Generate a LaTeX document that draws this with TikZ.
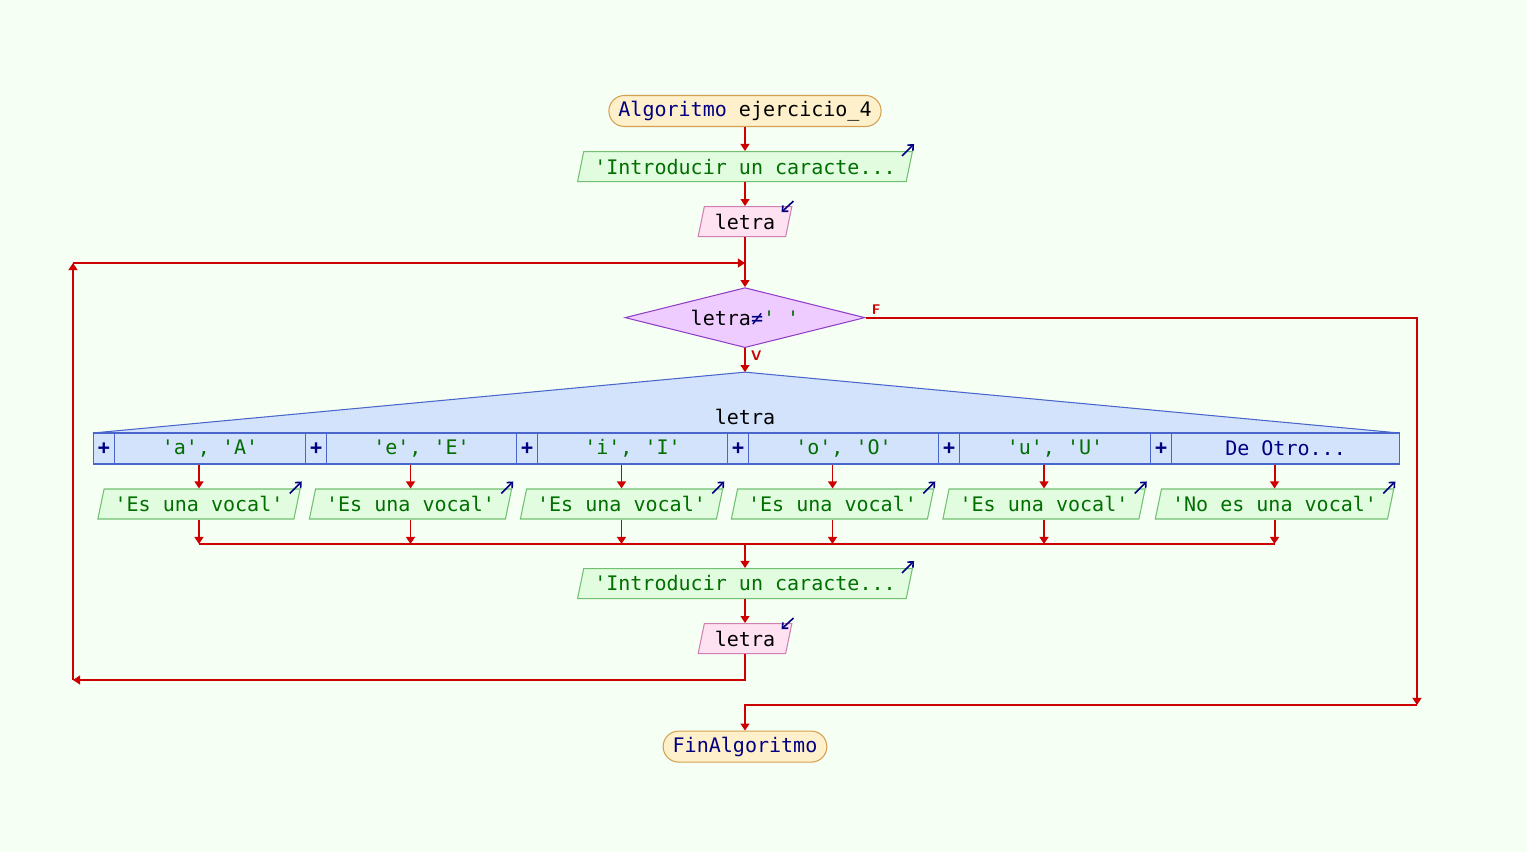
\documentclass[tikz,border=0pt]{standalone}
\usepackage{fontspec}
\setmonofont{DejaVu Sans Mono}
\usepackage{tikz}
\usetikzlibrary{arrows.meta,positioning,shapes.geometric}

\definecolor{bgcol}{HTML}{F5FFF4}
\definecolor{flowred}{HTML}{CC0000}
\definecolor{kwblue}{HTML}{000080}
\definecolor{strgreen}{HTML}{006E00}
\definecolor{termfill}{HTML}{FFF0CC}
\definecolor{termdraw}{HTML}{D4A050}
\definecolor{outfill}{HTML}{E2FCE0}
\definecolor{outdraw}{HTML}{70C070}
\definecolor{infill}{HTML}{FFE2F2}
\definecolor{indraw}{HTML}{D080B0}
\definecolor{decfill}{HTML}{EFCCFF}
\definecolor{decdraw}{HTML}{9040C8}
\definecolor{swfill}{HTML}{D4E3FC}
\definecolor{swdraw}{HTML}{4A66CC}

\tikzstyle{startstop} = [rectangle, rounded corners=0.31cm, minimum height=0.62cm, inner xsep=0.19cm, inner ysep=1pt, fill=termfill, draw=termdraw, text=kwblue]
\tikzstyle{io} = [trapezium, trapezium left angle=72, trapezium right angle=108, trapezium stretches=true, minimum height=0.6cm, inner xsep=0.21cm, inner ysep=1pt, fill=outfill, draw=outdraw, text=strgreen]
\tikzstyle{ioin} = [io, fill=infill, draw=indraw, text=black]
\tikzstyle{decision} = [diamond, aspect=4, minimum width=4.8cm, minimum height=1.2cm, inner sep=0pt, fill=decfill, draw=decdraw]
\tikzstyle{plusbox} = [rectangle, minimum width=0.42cm, minimum height=0.62cm, inner sep=0pt, fill=swfill, draw=swdraw, text=kwblue, font=\ttfamily\bfseries\fontsize{11.4}{13}\selectfont]
\tikzstyle{casebox} = [rectangle, minimum height=0.62cm, inner sep=0pt, fill=swfill, draw=swdraw, text=strgreen]
\tikzstyle{conn} = [draw=flowred, line width=1.1pt]
\tikzstyle{icon} = [draw=kwblue, line width=0.9pt, -{Straight Barb[length=2.5pt,width=4.5pt]}]
\tikzstyle{lbl} = [text=flowred, inner sep=1pt, font=\sffamily\bfseries\fontsize{8}{8}\selectfont]

\begin{document}
\begin{tikzpicture}[x=0.02cm, y=-0.02cm, >={Triangle[length=4pt,width=5pt]}, line width=0.6pt,
	every node/.style={font=\ttfamily\fontsize{11.4}{13}\selectfont}]
	\useasboundingbox (0,0) rectangle (1527,852);
	\fill[bgcol] (0,0) rectangle (1527,852);

	\node[startstop] (start) at (745,111) {Algoritmo \textcolor{black}{ejercicio\_4}};
	\node[io, below=0.48cm of start] (out1) {'Introducir un caracte...};
	\node[ioin, below=0.48cm of out1] (in1) {letra};
	\node[decision, below=1.0cm of in1] (dec1) {letra\textcolor{kwblue}{≠}\textcolor{strgreen}{' '}};
	\coordinate[below=0.48cm of dec1] (sw);
	\coordinate (swl) at (93,433);
	\coordinate (swr) at (1399,433);
	\coordinate (m) at (745,544);
	\coordinate (loopbl) at (73,680);
	\coordinate (looptl) at (73,263);
	\coordinate (loopin) at (745,263);
	\coordinate (fc) at (1417,705);

	% switch
	\filldraw[fill=swfill, draw=swdraw] (sw) -- (swl) -- (swr) -- cycle;
	\node (swlbl) at (745,417) {letra};
	\foreach \n/\l/\r/\txt/\msg in {1/93/305/{'a', 'A'}/{'Es una vocal'},
		2/305/516/{'e', 'E'}/{'Es una vocal'},
		3/516/727/{'i', 'I'}/{'Es una vocal'},
		4/727/938/{'o', 'O'}/{'Es una vocal'},
		5/938/1150/{'u', 'U'}/{'Es una vocal'},
		6/1150/1399/{\textcolor{kwblue}{De Otro...}}/{'No es una vocal'}}{
		\node[plusbox, anchor=west] (p\n) at (\l,448.5) {+};
		\node[casebox, anchor=west, minimum width={(\r-\l-21)*0.02cm}] (c\n) at (\l+21,448.5) {\txt};
		\node[io] (o\n) at ({(\l+\r)/2},504) {\msg};
		\draw[icon] ([shift={(-11,5)}]o\n.top right corner) -- ++(12,-12);
		\draw[conn,->] (c\n.south -| o\n.north) -- (o\n.north);
		\draw[conn,->] (o\n.south) -- (o\n.south |- m);
	}
	\draw[conn] (o1.south |- m) -- (o6.south |- m);

	\node[io, below=0.48cm of m] (out2) {'Introducir un caracte...};
	\node[ioin, below=0.48cm of out2] (in2) {letra};
	\node[startstop, below=1.53cm of in2] (end) {FinAlgoritmo};

	% icons
	\draw[icon] ([shift={(-11,5)}]out1.top right corner) -- ++(12,-12);
	\draw[icon] ([shift={(-11,5)}]out2.top right corner) -- ++(12,-12);
	\draw[icon] ([shift={(1,-5)}]in1.top right corner) -- ++(-12,11);
	\draw[icon] ([shift={(1,-5)}]in2.top right corner) -- ++(-12,11);

	%arrow
	\draw[conn,->] (start) -- (out1);
	\draw[conn,->] (out1) -- (in1);
	\draw[conn,->] (in1) -- (dec1);
	\draw[conn,->] (dec1) -- node[lbl, pos=0, below right, xshift=2pt]{V} (sw);
	\draw[conn,->] (dec1.east) -| node[lbl, pos=0, above right, xshift=2pt]{F} (fc);
	\draw[conn,->] (fc) -| (end);
	\draw[conn,->] (m) -- (out2);
	\draw[conn,->] (out2) -- (in2);
	\draw[conn,->] (in2) |- (loopbl);
	\draw[conn,->] (loopbl) -- (looptl);
	\draw[conn,->] (looptl) -- (loopin);
\end{tikzpicture}
\end{document}
